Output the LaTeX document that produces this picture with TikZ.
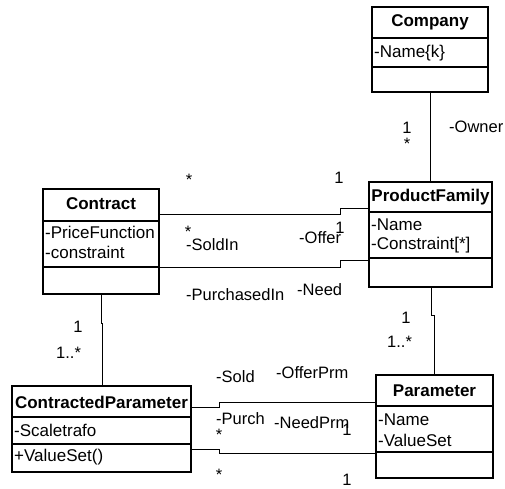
\documentclass[tikz,border=0pt]{standalone}
\usepackage{fontspec}
\setmainfont{Liberation Sans}
\begin{document}
\begin{tikzpicture}[x=1pt,y=-1pt,
  box/.style={draw, line width=1.3pt, inner sep=0pt, outer sep=0pt, anchor=north west},
  ttl/.style={font=\fontsize{17}{20}\selectfont\bfseries, inner sep=0pt},
  attr/.style={font=\fontsize{17}{20}\selectfont, inner sep=0pt, anchor=west},
  lbl/.style={font=\fontsize{16.5}{20}\selectfont, inner sep=0pt, anchor=west},
  mult/.style={font=\fontsize{16.5}{20}\selectfont, inner sep=0pt},
  conn/.style={line width=1pt},
  divider/.style={line width=1.3pt}]
\useasboundingbox (0,0) rectangle (505,488);

% ---------- classes ----------
% Company
\node[box, minimum width=116pt, minimum height=85pt] (company) at (372,7) {};
\draw[divider] (company.west |- 0,38) -- (company.east |- 0,38);
\draw[divider] (company.west |- 0,67) -- (company.east |- 0,67);
\node[ttl] (companyT) at (430,22) {Company};
\node[attr] (companyA1) at (374,53) {-Name\{k\}};

% ProductFamily
\node[box, minimum width=123pt, minimum height=105pt] (pf) at (369,182) {};
\draw[divider] (pf.west |- 0,212) -- (pf.east |- 0,212);
\draw[divider] (pf.west |- 0,258) -- (pf.east |- 0,258);
\node[ttl] (pfT) at (430.5,197) {ProductFamily};
\node[attr] (pfA1) at (371,225) {-Name};
\node[attr] (pfA2) at (371,245) {-Constraint[*]};

% Contract
\node[box, minimum width=116pt, minimum height=105pt] (contract) at (43,189) {};
\draw[divider] (contract.west |- 0,221) -- (contract.east |- 0,221);
\draw[divider] (contract.west |- 0,267) -- (contract.east |- 0,267);
\node[ttl] (contractT) at (101,204) {Contract};
\node[attr] (contractA1) at (45,232) {-PriceFunction};
\node[attr] (contractA2) at (45,252) {-constraint};

% ContractedParameter
\node[box, minimum width=179pt, minimum height=86pt] (cp) at (12,386) {};
\draw[divider] (cp.west |- 0,417) -- (cp.east |- 0,417);
\draw[divider] (cp.west |- 0,444) -- (cp.east |- 0,444);
\node[ttl] (cpT) at (101.5,402) {ContractedParameter};
\node[attr] (cpA1) at (14,430) {-Scaletrafo};
\node[attr] (cpO1) at (14,457) {+ValueSet()};

% Parameter
\node[box, minimum width=117pt, minimum height=103pt] (param) at (376,375) {};
\draw[divider] (param.west |- 0,406) -- (param.east |- 0,406);
\draw[divider] (param.west |- 0,452) -- (param.east |- 0,452);
\node[ttl] (paramT) at (434.5,391) {Parameter};
\node[attr] (paramA1) at (378,420) {-Name};
\node[attr] (paramA2) at (378,440) {-ValueSet};

% ---------- connectors ----------
% Company -- ProductFamily
\draw[conn] (company.south) -- (company.south |- pf.north);
% Contract -- ProductFamily (Offer / SoldIn)
\draw[conn] (contract.east |- 0,214) -- (340,214) -- (340,208) -- (pf.west |- 0,208);
% Contract -- ProductFamily (Need / PurchasedIn)
\draw[conn] (contract.east |- 0,267) -- (340,267) -- (340,260) -- (pf.west |- 0,260);
% Contract -- ContractedParameter
\draw[conn] (101,294) -- (101,323) -- (102,323) -- (102,386);
% ProductFamily -- Parameter
\draw[conn] (431,287) -- (431,315) -- (434,315) -- (434,375);
% ContractedParameter -- Parameter (OfferPrm / Sold)
\draw[conn] (cp.east |- 0,407) -- (219,407) -- (219,402) -- (param.west |- 0,402);
% ContractedParameter -- Parameter (NeedPrm / Purch)
\draw[conn] (cp.east |- 0,449) -- (219,449) -- (219,453) -- (param.west |- 0,453);

% ---------- labels ----------
\node[mult] (m1) at (407,128) {1};
\node[mult] (m2) at (407,144) {*};
\node[lbl] (owner) at (449,127) {-Owner};

\node[mult] (m3) at (189,180) {*};
\node[mult] (m4) at (339,178) {1};
\node[mult] (m5) at (188,232) {*};
\node[lbl] (soldin) at (186,245) {-SoldIn};
\node[lbl] (offer) at (299,238) {-Offer};
\node[mult] (m6) at (340,228) {1};
\node[lbl] (purchasedin) at (186,295) {-PurchasedIn};
\node[lbl] (need) at (297,290) {-Need};

\node[mult] (m7) at (78,327) {1};
\node[lbl] (m8) at (56,353) {1..*};

\node[mult] (m9) at (406,318) {1};
\node[lbl] (m10) at (387,342) {1..*};

\node[lbl] (sold) at (216,377) {-Sold};
\node[lbl] (offerprm) at (276,373) {-OfferPrm};
\node[lbl] (purch) at (216,419) {-Purch};
\node[mult] (m11) at (219,435) {*};
\node[lbl] (needprm) at (274,423) {-NeedPrm};
\node[mult] (m12) at (347,430) {1};
\node[mult] (m13) at (219,475) {*};
\node[mult] (m14) at (347,480) {1};
\end{tikzpicture}
\end{document}
